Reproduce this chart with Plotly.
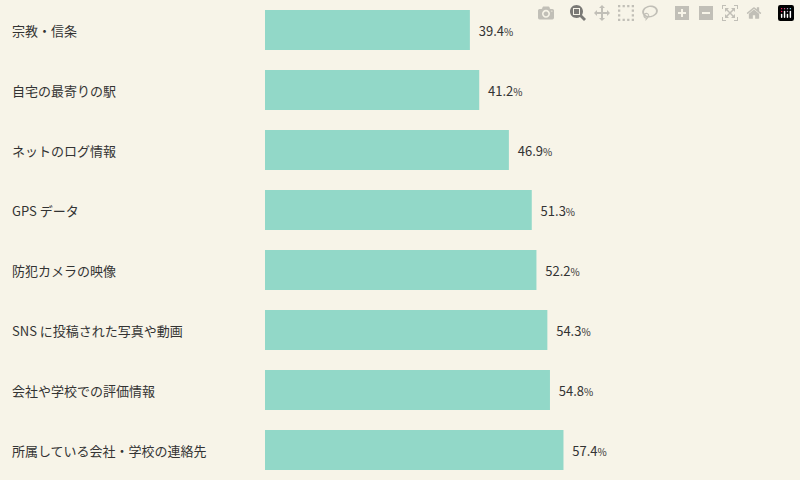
import plotly.graph_objects as go

categories = [
    "宗教・信条",
    "自宅の最寄りの駅",
    "ネットのログ情報",
    "GPS データ",
    "防犯カメラの映像",
    "SNS に投稿された写真や動画",
    "会社や学校での評価情報",
    "所属している会社・学校の連絡先",
]
values = [39.4, 41.2, 46.9, 51.3, 52.2, 54.3, 54.8, 57.4]

fig = go.Figure(
    go.Bar(
        x=values,
        y=categories,
        orientation="h",
        marker=dict(color="#92d8c8", line_width=0),
        text=[f"  {v:.1f}<span style='font-size:10px'>%</span>" for v in values],
        textposition="outside",
        textfont=dict(size=13, color="#333333"),
        cliponaxis=False,
    )
)

# category labels at the left edge
for c in categories:
    fig.add_annotation(
        x=-255 / 520, xref="paper", y=c, yref="y", text=c, showarrow=False,
        xanchor="left", font=dict(size=13, color="#333333"),
    )

fig.update_layout(
    width=800, height=480,
    margin=dict(l=265, r=15, t=0, b=0),
    paper_bgcolor="#f7f4e8", plot_bgcolor="#f7f4e8",
    bargap=0.333, showlegend=False,
    font=dict(family="Noto Sans CJK JP, Noto Sans, sans-serif"),
)
fig.update_xaxes(range=[0, 100], visible=False)
fig.update_yaxes(autorange="reversed", showticklabels=False, showgrid=False, zeroline=False)

# remove the browser's default page margin
fig.write_html("out.html", post_script="document.body.style.margin='0';")
